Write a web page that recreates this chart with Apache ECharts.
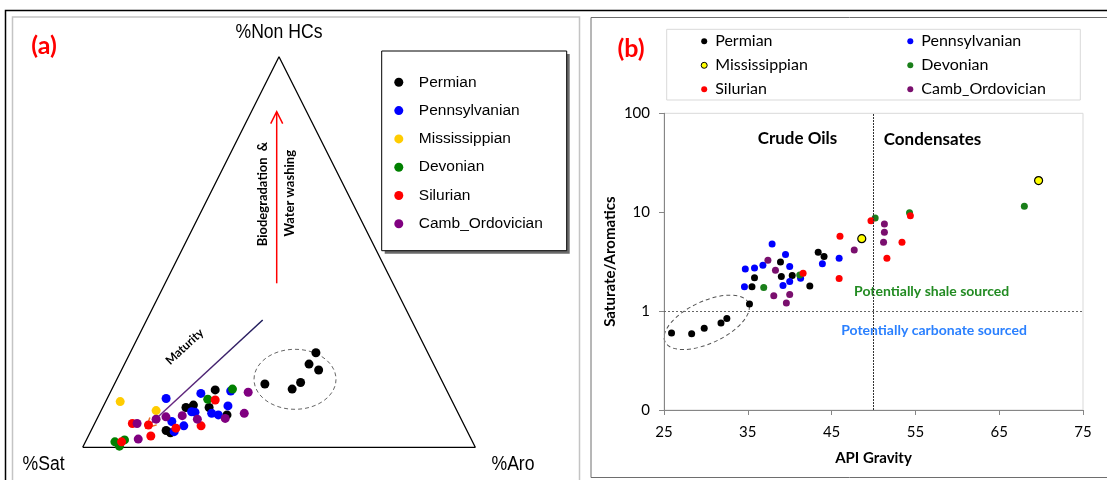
<!DOCTYPE html>
<html>
<head>
<meta charset="utf-8">
<script src="https://cdn.jsdelivr.net/npm/echarts@6/dist/echarts.min.js"></script>
<style>
html, body { margin: 0; padding: 0; background: #fff; }
#chart { width: 1107px; height: 480px; }
</style>
</head>
<body>
<div id="chart"></div>
<script>
// Oil families by source-rock age
const groups = ['Permian', 'Pennsylvanian', 'Mississippian', 'Devonian', 'Silurian', 'Camb_Ordovician'];

// (a) bulk composition of each oil: [%Sat, %Aro, %Non HCs]
const permianComp = [
  [76.6, 19.1, 4.3], [75.8, 20.5, 3.7], [68.6, 21.2, 10.2], [66.4, 22.8, 10.8],
  [62.7, 27.1, 10.2], [58.9, 26.4, 14.7], [59.1, 32.6, 8.3], [45.5, 38.3, 16.2],
  [39.2, 45.9, 14.9], [36.2, 47.2, 16.6], [28.5, 47.3, 24.2], [31.7, 47.0, 21.3],
  [30.0, 50.2, 19.8]
];
const pennsylvanianComp = [
  [72.5, 15.0, 12.5], [74.0, 19.4, 6.6], [71.5, 23.0, 5.5], [74.7, 21.3, 4.0],
  [67.7, 23.2, 9.1], [66.9, 24.1, 9.0], [63.0, 23.2, 13.8], [62.8, 28.5, 8.7],
  [61.3, 30.4, 8.3], [57.7, 31.7, 10.6], [55.1, 30.5, 14.4]
];
const mississippianComp = [[84.6, 3.7, 11.7], [76.6, 14.0, 9.4]];
const devonianComp = [
  [91.1, 7.5, 1.4], [90.5, 9.2, 0.3], [88.4, 9.7, 1.9], [54.4, 30.7, 14.9], [62.0, 25.7, 12.3]
];
const silurianComp = [
  [84.3, 9.6, 6.1], [80.4, 13.9, 5.7], [81.2, 15.9, 2.9], [89.4, 9.2, 1.4],
  [73.8, 21.3, 4.9], [67.1, 27.4, 5.5], [60.2, 27.7, 12.1]
];
const cambOrdovicianComp = [
  [83.1, 10.8, 6.1], [84.8, 13.1, 2.1], [77.7, 15.1, 7.2], [74.9, 17.3, 7.8],
  [70.6, 21.3, 8.1], [67.2, 25.6, 7.2], [60.0, 32.6, 7.4], [54.5, 36.8, 8.7],
  [50.8, 35.1, 14.1]
];

// (b) [API gravity, saturate/aromatics ratio]
const permianApi = [
  [25.9, 0.60], [28.3, 0.59], [29.8, 0.67], [31.8, 0.76], [32.5, 0.84], [35.2, 1.18],
  [35.5, 1.76], [35.8, 2.17], [38.9, 3.14], [39.0, 2.24], [40.3, 2.29], [42.4, 1.79],
  [43.4, 3.94], [44.1, 3.56]
];
const pennsylvanianApi = [
  [34.7, 2.67], [35.8, 2.73], [34.6, 1.76], [36.8, 2.91], [37.9, 4.77], [39.5, 3.73],
  [40.0, 2.82], [39.2, 1.81], [40.0, 1.99], [41.3, 2.15], [43.9, 3.02], [45.9, 3.42]
];
const mississippianApi = [[48.6, 5.4], [69.7, 20.9]];
const devonianApi = [[36.9, 1.73], [41.2, 2.32], [50.2, 8.73], [54.3, 9.88], [68.0, 11.5]];
const silurianApi = [
  [41.6, 2.42], [46.0, 5.71], [45.9, 2.13], [49.7, 8.21], [54.4, 9.22], [53.4, 4.96], [51.6, 3.42]
];
const cambOrdovicianApi = [
  [37.4, 3.27], [38.3, 2.59], [38.1, 1.43], [39.6, 1.21], [40.0, 1.47], [47.7, 4.15],
  [51.3, 7.6], [51.3, 6.26], [51.2, 4.96]
];

// tick labels of panel (b)
const apiTicks = [25, 35, 45, 55, 65, 75];
const ratioTicks = [0.1, 1, 10, 100];
const ratioTickLabels = ['0', '1', '10', '100'];

const compSets = [permianComp, pennsylvanianComp, mississippianComp, devonianComp, silurianComp, cambOrdovicianComp];
const apiSets = [permianApi, pennsylvanianApi, mississippianApi, devonianApi, silurianApi, cambOrdovicianApi];

const colorsA = ['#000000', '#0000ff', '#ffcc00', '#008000', '#ff0000', '#800080'];
const colorsB = ['#000000', '#0000ff', '#ffff00', '#1a7f1a', '#ff0000', '#7a0f6e'];

const SANS = "'Liberation Sans', Arial, sans-serif";
const LATO = "Lato, 'Open Sans', sans-serif";

// ternary -> triangle coordinates (base 0..100, height 0..100)
function ternary(c) {
  const total = c[0] + c[1] + c[2];
  const aro = c[1] / total * 100;
  const non = c[2] / total * 100;
  return [aro + non / 2, non];
}

const chart = echarts.init(document.getElementById('chart'), null, { renderer: 'canvas' });

const series = [];

// triangle frame of panel (a)
series.push({
  type: 'line', xAxisIndex: 0, yAxisIndex: 0, silent: true, symbol: 'none', z: 1,
  data: [[0, 0], [100, 0], [50, 100], [0, 0]],
  lineStyle: { color: '#000', width: 1.3 }
});

groups.forEach((g, i) => {
  series.push({
    name: g, type: 'scatter', xAxisIndex: 0, yAxisIndex: 0,
    symbol: 'circle', symbolSize: 9,
    itemStyle: { color: colorsA[i], opacity: 1 },
    data: compSets[i].map(ternary)
  });
});

groups.forEach((g, i) => {
  const s = {
    name: g, type: 'scatter', xAxisIndex: 1, yAxisIndex: 1,
    symbol: 'circle', symbolSize: i === 2 ? 8 : 7,
    itemStyle: i === 2
      ? { color: colorsB[i], borderColor: '#000', borderWidth: 1.2, opacity: 1 }
      : { color: colorsB[i], opacity: 1 },
    data: apiSets[i]
  };
  if (i === 0) {
    s.markLine = {
      silent: true, symbol: ['none', 'none'], label: { show: false }, animation: false,
      data: [
        { xAxis: 50, lineStyle: { color: '#333', width: 1, type: [2, 1] } },
        { yAxis: 1, lineStyle: { color: '#666', width: 1, type: [2, 2] } }
      ]
    };
  }
  series.push(s);
});

const legendText = { fontFamily: LATO, fontSize: 16, lineHeight: 16, color: '#000' };
function legendItem(i) {
  const st = { color: colorsB[i] };
  if (i === 2) { st.borderColor = '#000'; st.borderWidth = 1; }
  return { name: groups[i], itemStyle: st };
}

const option = {
  animation: false,
  backgroundColor: '#fff',
  grid: [
    { left: 82.7, top: 56.7, width: 392.6, height: 390.6, show: false },
    { left: 664, top: 113.3, width: 419, height: 296.7, show: true,
      borderColor: '#d9d9d9', borderWidth: 1, backgroundColor: 'transparent' }
  ],
  xAxis: [
    { gridIndex: 0, type: 'value', min: 0, max: 100, show: false },
    {
      gridIndex: 1, type: 'value', min: 25, max: 75,
      name: 'API Gravity', nameLocation: 'middle', nameGap: 41,
      nameTextStyle: { fontFamily: LATO, fontSize: 15, fontWeight: 'bold', color: '#000' },
      axisLine: { lineStyle: { color: '#868686', width: 1 } },
      axisTick: { show: true, length: 5, customValues: apiTicks, lineStyle: { color: '#868686' } },
      axisLabel: { customValues: apiTicks, margin: 15, fontFamily: LATO, fontSize: 15, color: '#000' },
      splitLine: { show: false }
    }
  ],
  yAxis: [
    { gridIndex: 0, type: 'value', min: 0, max: 100, show: false },
    {
      gridIndex: 1, type: 'log', logBase: 10, min: 0.1, max: 100,
      name: 'Saturate/Aromatics', nameLocation: 'middle', nameGap: 46,
      nameTextStyle: { fontFamily: LATO, fontSize: 15, fontWeight: 'bold', color: '#000' },
      axisLine: { show: true, lineStyle: { color: '#868686', width: 1 } },
      axisTick: { show: true, length: 5, lineStyle: { color: '#868686' } },
      axisLabel: {
        margin: 14, fontFamily: LATO, fontSize: 15, color: '#000',
        formatter: v => {
          let best = 0;
          ratioTicks.forEach((t, k) => {
            if (Math.abs(Math.log10(v) - Math.log10(t)) < Math.abs(Math.log10(v) - Math.log10(ratioTicks[best]))) best = k;
          });
          return ratioTickLabels[best];
        }
      },
      splitLine: { show: false },
      minorTick: { show: false }, minorSplitLine: { show: false }
    }
  ],
  legend: [
    {
      orient: 'vertical', left: 394.3, top: 73.3, padding: 0,
      itemWidth: 30, itemHeight: 9, itemGap: 10.3, icon: 'circle', selectedMode: false,
      textStyle: { fontFamily: SANS, fontSize: 15.5, lineHeight: 18, color: '#000' },
      data: groups.slice()
    },
    {
      orient: 'vertical', left: 700.7, top: 33.3, padding: 0,
      itemWidth: 12, itemHeight: 6, itemGap: 8, icon: 'circle', selectedMode: false,
      textStyle: legendText,
      data: [legendItem(0), legendItem(2), legendItem(4)]
    },
    {
      orient: 'vertical', left: 907.3, top: 33.3, padding: 0,
      itemWidth: 12, itemHeight: 6, itemGap: 8, icon: 'circle', selectedMode: false,
      textStyle: legendText,
      data: [legendItem(1), legendItem(3), legendItem(5)]
    }
  ],
  series: series
};

chart.setOption(option);

function label(text, x, y, font, fill, rotation, scaleX) {
  return {
    type: 'text', x: x, y: y, rotation: rotation || 0, scaleX: scaleX || 1, silent: true,
    style: {
      text: text, font: font, fill: fill,
      align: 'center', verticalAlign: 'middle',
      textAlign: 'center', textVerticalAlign: 'middle'
    }
  };
}

const elements = [];

// frames
elements.push({ type: 'polyline', silent: true, shape: { points: [[5.5, 481], [5.5, 10.5], [1108, 10.5]] },
  style: { stroke: '#000', lineWidth: 1.5, fill: null } });
elements.push({ type: 'rect', silent: true, shape: { x: 12.5, y: 17, width: 567, height: 470 },
  style: { stroke: '#c4c4c4', lineWidth: 1.5, fill: null } });
elements.push({ type: 'rect', silent: true, shape: { x: 591, y: 17.5, width: 530, height: 460 },
  style: { stroke: '#6e6e6e', lineWidth: 1, fill: null } });

// legend boxes
elements.push({ type: 'rect', silent: true, shape: { x: 384.7, y: 54, width: 185, height: 199.7 },
  style: { fill: '#6a6a6a' } });
elements.push({ type: 'rect', silent: true, shape: { x: 381.7, y: 51, width: 185, height: 199.7 },
  style: { fill: '#fff', stroke: '#000', lineWidth: 1 } });
elements.push({ type: 'rect', silent: true, shape: { x: 666.7, y: 29.3, width: 413.6, height: 70.7 },
  style: { fill: '#fff', stroke: '#d9d9d9', lineWidth: 1 } });

// panel (a) titles
elements.push(label('(a)', 44, 46, "bold 25px " + LATO, '#ff0000'));
elements.push(label('%Non HCs', 279, 32.5, "20px " + SANS, '#000', 0, 0.88));
elements.push(label('%Sat', 43.6, 464, "20px " + SANS, '#000', 0, 0.88));
elements.push(label('%Aro', 513, 464, "20px " + SANS, '#000', 0, 0.88));

// biodegradation arrow
elements.push({ type: 'line', silent: true, shape: { x1: 276.7, y1: 283.3, x2: 276.7, y2: 112 },
  style: { stroke: '#ff0000', lineWidth: 1.5 } });
elements.push({ type: 'polyline', silent: true, shape: { points: [[270.7, 123.7], [276.7, 111.7], [282.7, 123.7]] },
  style: { stroke: '#ff0000', lineWidth: 1.5, fill: null } });
elements.push(label('Biodegradation  &', 262.7, 194, "bold 13px " + LATO, '#000', Math.PI / 2));
elements.push(label('Water washing', 290, 193.3, "bold 13px " + LATO, '#000', Math.PI / 2));

// maturity arrow
elements.push({ type: 'line', silent: true, shape: { x1: 262.7, y1: 320, x2: 146.5, y2: 427.5 },
  style: {
    lineWidth: 1.5,
    stroke: new echarts.graphic.LinearGradient(262.7, 320, 146.5, 427.5, [
      { offset: 0, color: '#1c1c5a' }, { offset: 1, color: '#7d2a8c' }
    ], true)
  } });
elements.push({ type: 'polyline', silent: true, shape: { points: [[156.7, 424.9], [146, 428], [149.9, 417.5]] },
  style: { stroke: '#e8702a', lineWidth: 1.5, fill: null } });
elements.push(label('Maturity', 184.6, 346.7, "bold 12px " + LATO, '#000', 0.75));

// grouping around the heavy Permian oils
elements.push({ type: 'ellipse', silent: true, x: 295, y: 379.3, shape: { cx: 0, cy: 0, rx: 41, ry: 30 },
  style: { stroke: '#666', lineWidth: 1, lineDash: [4, 3], fill: null } });

// panel (b) annotations
elements.push(label('(b)', 631, 49, "bold 25px " + LATO, '#ff0000'));
elements.push(label('Crude Oils', 797.5, 138.3, "bold 17px " + LATO, '#000'));
elements.push(label('Condensates', 932.5, 140, "bold 17px " + LATO, '#000'));
elements.push(label('Potentially shale sourced', 931.7, 291, "bold 14px " + LATO, '#228b22'));
elements.push(label('Potentially carbonate sourced', 934, 330.7, "bold 14px " + LATO, '#2a80ff'));

const ringCenter = chart.convertToPixel({ gridIndex: 1 }, [30.1, 0.77]);
elements.push({ type: 'ellipse', silent: true, x: ringCenter[0], y: ringCenter[1], rotation: 0.436,
  shape: { cx: 0, cy: 0, rx: 46, ry: 21 },
  style: { stroke: '#555', lineWidth: 1, lineDash: [4, 3], fill: null } });

chart.setOption({ graphic: { elements: elements } });
</script>
</body>
</html>
